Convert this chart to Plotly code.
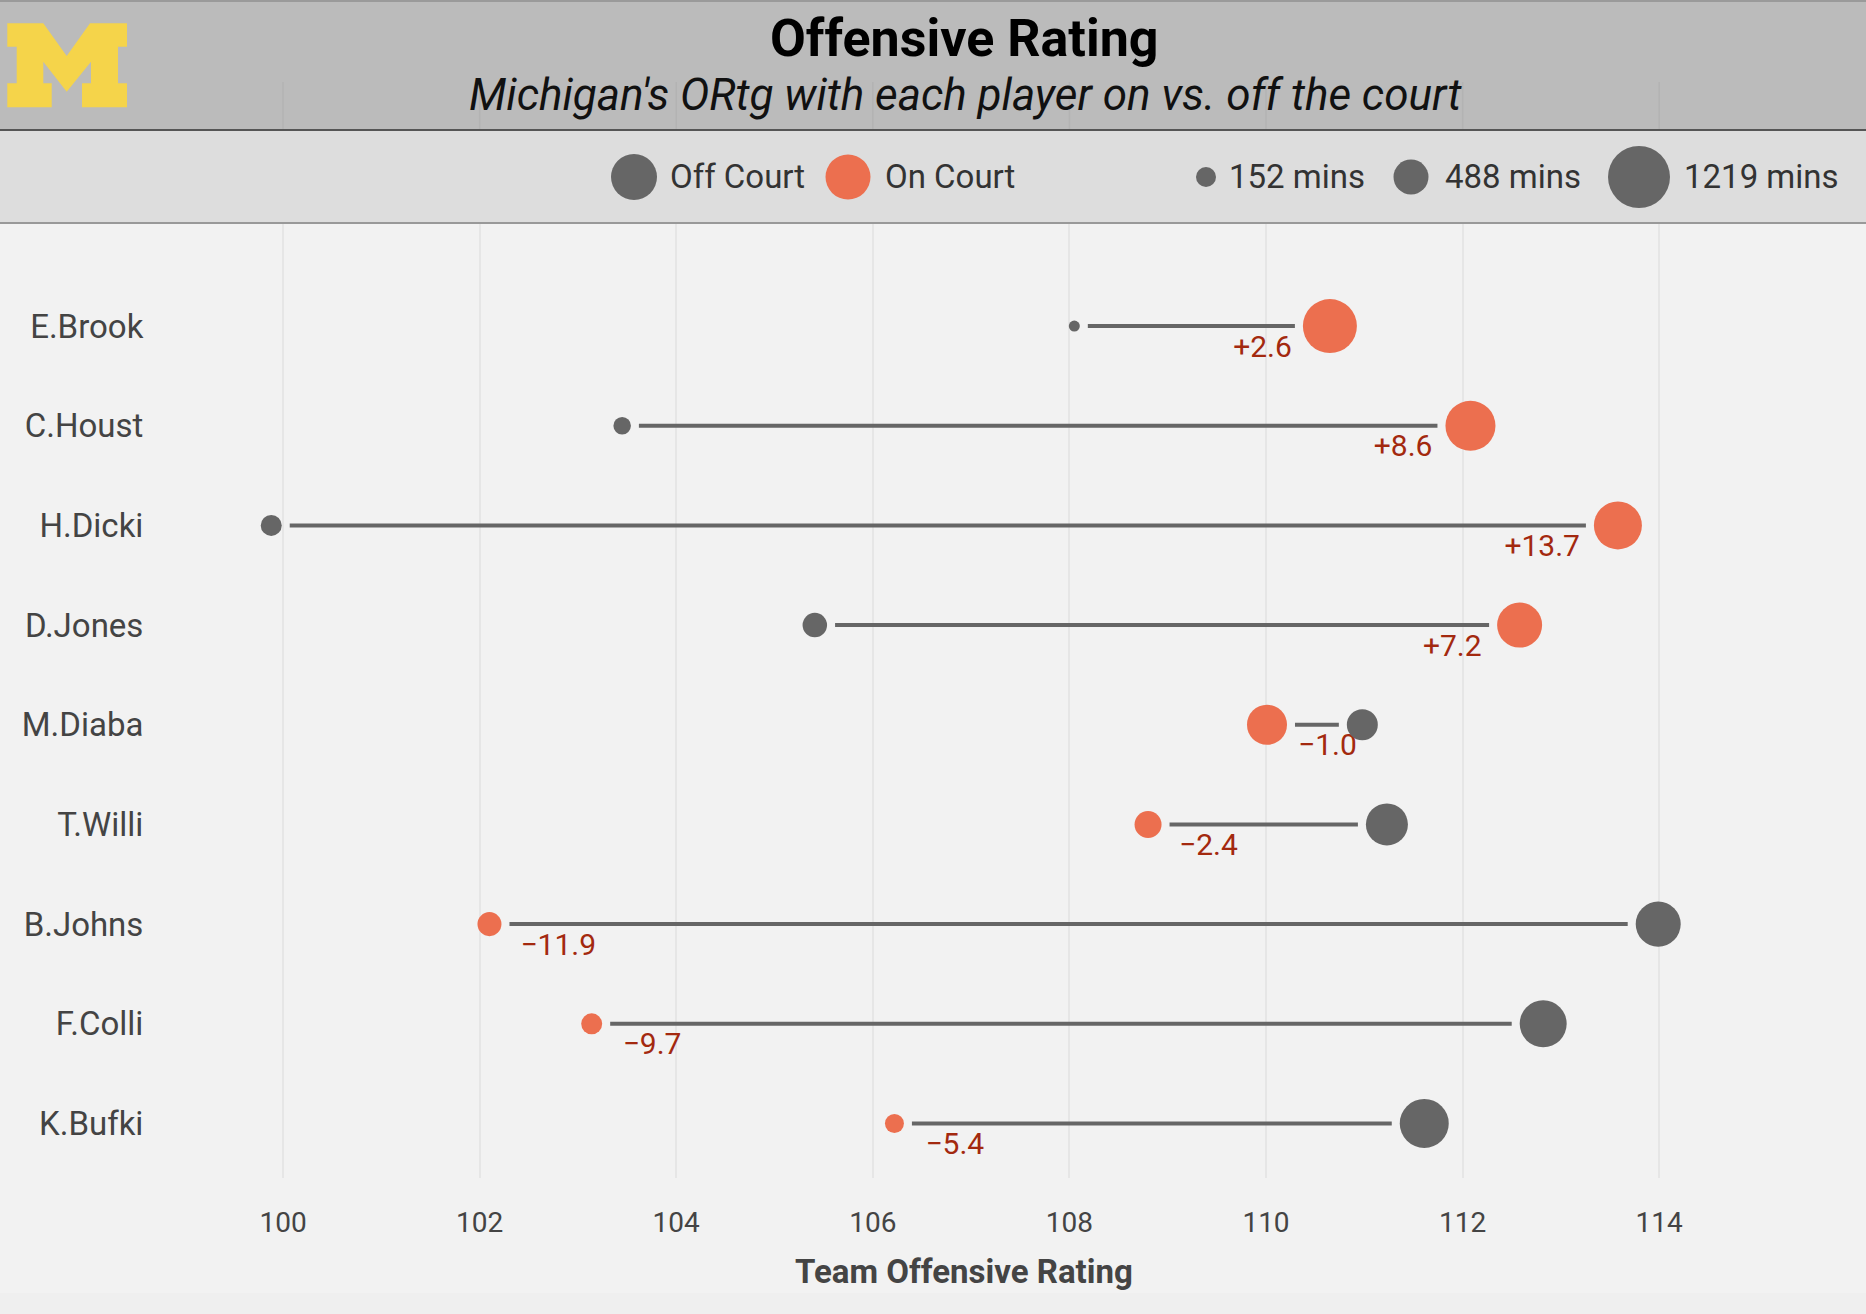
import plotly.graph_objects as go
import numpy as np

# ---------------- data ----------------
players = ["E.Brook", "C.Houst", "H.Dicki", "D.Jones", "M.Diaba",
           "T.Willi", "B.Johns", "F.Colli", "K.Bufki"]
ortg_off = [108.05, 103.45, 99.88, 105.41, 110.98, 111.23, 113.99, 112.82, 111.61]
ortg_on = [110.65, 112.08, 113.58, 112.58, 110.01, 108.80, 102.10, 103.14, 106.22]
mins_off = [152, 313, 400, 487, 648, 921, 996, 1045, 1095]
mins_on = [1219, 1120, 1070, 996, 872, 549, 475, 400, 350]
x_ticks = [100, 102, 104, 106, 108, 110, 112, 114]
legend_minutes = [152, 488, 1219]

# ---------------- style / layout constants ----------------
W, H = 1866, 1314
L, T, PW, PH = 204, 224, 1524, 954
X_RANGE = [99.196, 114.70]
Y_RANGE = [8.547, -1.024]
PPU_X = PW / (X_RANGE[1] - X_RANGE[0])
PPU_Y = PH / (Y_RANGE[0] - Y_RANGE[1])
GRAY = "#666666"
ORANGE = "#ec6f4f"
RED = "#a3290f"
FONT = "Roboto"
D_MIN, D_MAX = 11, 54
GAP = 8

all_mins = mins_off + mins_on
m_lo, m_hi = min(all_mins), max(all_mins)


def size_scale(m):
    m = np.asarray(m, dtype=float)
    return D_MIN + (m - m_lo) / (m_hi - m_lo) * (D_MAX - D_MIN)


def px2x(px):
    return (px - L) / PW


def py2y(py):
    return (T + PH - py) / PH


d_off = size_scale(mins_off)
d_on = size_scale(mins_on)
yidx = list(range(len(players)))

# segments and difference labels
seg_x, seg_y = [], []
lab_x, lab_y, lab_t, lab_pos = [], [], [], []
for i in yidx:
    off, on = ortg_off[i], ortg_on[i]
    s = 1 if on > off else -1
    x0 = off + s * (d_off[i] / 2 + GAP) / PPU_X
    x1 = on - s * (d_on[i] / 2 + GAP) / PPU_X
    seg_x += [x0, x1, None]
    seg_y += [i, i, None]
    diff = round(on - off, 1)
    txt = ("+" if diff > 0 else "\u2212") + f"{abs(diff):.1f}"
    if s > 0:
        lab_x.append(on - 38 / PPU_X)
        lab_pos.append("middle left")
    else:
        lab_x.append(on + 31 / PPU_X)
        lab_pos.append("middle right")
    lab_y.append(i + 23 / PPU_Y)
    lab_t.append(txt)

fig = go.Figure()
fig.add_trace(go.Scatter(x=seg_x, y=seg_y, mode="lines",
                         line=dict(color=GRAY, width=4), hoverinfo="skip",
                         showlegend=False))
fig.add_trace(go.Scatter(x=lab_x, y=lab_y, mode="text", text=lab_t,
                         textposition=lab_pos, marker=dict(size=0),
                         textfont=dict(family=FONT, size=30, color=RED),
                         hoverinfo="skip", showlegend=False))
fig.add_trace(go.Scatter(x=ortg_on, y=yidx, mode="markers", name="On Court",
                         marker=dict(color=ORANGE, size=d_on, line=dict(width=0), opacity=1),
                         showlegend=False))
fig.add_trace(go.Scatter(x=ortg_off, y=yidx, mode="markers", name="Off Court",
                         marker=dict(color=GRAY, size=d_off, line=dict(width=0), opacity=1),
                         showlegend=False))

shapes = []
# bottom strip
shapes.append(dict(type="rect", xref="paper", yref="paper",
                   x0=px2x(0), x1=px2x(W), y0=py2y(H), y1=py2y(1293),
                   fillcolor="#efefef", line=dict(width=0), layer="below"))
# title bar
shapes.append(dict(type="rect", xref="paper", yref="paper",
                   x0=px2x(0), x1=px2x(W), y0=py2y(130), y1=py2y(0),
                   fillcolor="#bbbbbb", line=dict(width=0), layer="above"))
shapes.append(dict(type="line", xref="paper", yref="paper",
                   x0=px2x(0), x1=px2x(W), y0=py2y(1), y1=py2y(1),
                   line=dict(color="#9a9a9a", width=2), layer="above"))
shapes.append(dict(type="line", xref="paper", yref="paper",
                   x0=px2x(0), x1=px2x(W), y0=py2y(130), y1=py2y(130),
                   line=dict(color="#555555", width=2), layer="above"))
# faint grid continuation inside the title bar
for v in x_ticks:
    shapes.append(dict(type="line", xref="x", yref="paper", x0=v, x1=v,
                       y0=py2y(129), y1=py2y(82),
                       line=dict(color="#b3b3b3", width=1.5), layer="above"))
# legend bar
shapes.append(dict(type="rect", xref="paper", yref="paper",
                   x0=px2x(0), x1=px2x(W), y0=py2y(223), y1=py2y(131),
                   fillcolor="#dddddd", line=dict(width=0), layer="above"))
shapes.append(dict(type="line", xref="paper", yref="paper",
                   x0=px2x(0), x1=px2x(W), y0=py2y(223), y1=py2y(223),
                   line=dict(color="#999999", width=2), layer="above"))


def circle(cx, cy, d, color):
    return dict(type="circle", xref="paper", yref="paper",
                x0=px2x(cx - d / 2), x1=px2x(cx + d / 2),
                y0=py2y(cy + d / 2), y1=py2y(cy - d / 2),
                fillcolor=color, line=dict(width=0), layer="above")


LEG_Y = 177
shapes.append(circle(634, LEG_Y, 46, GRAY))
shapes.append(circle(848, LEG_Y, 45, ORANGE))
leg_sizes = [20, 35, 62]
leg_cx = [1206, 1411, 1639]
leg_tx = [1227, 1443, 1682]
for cx, dd in zip(leg_cx, leg_sizes):
    shapes.append(circle(cx, LEG_Y, dd, GRAY))

# Michigan block M logo
m_pts = [(7.3, 23.3), (43.3, 23.3), (66.7, 56), (90, 23.3), (127, 23.3), (127, 46.7),
         (118, 46.7), (118, 83.3), (127, 83.3), (127, 107.3), (82, 107.3), (82, 83.3),
         (91, 83.3), (91, 61.7), (66.7, 91.7), (43.3, 61.7), (43.3, 83.3), (51.7, 83.3),
         (51.7, 107.3), (7.3, 107.3), (7.3, 83.3), (16.7, 83.3), (16.7, 46.7), (7.3, 46.7)]
path = "M " + " L ".join(f"{px2x(a):.5f},{py2y(b):.5f}" for a, b in m_pts) + " Z"
shapes.append(dict(type="path", xref="paper", yref="paper", path=path,
                   fillcolor="#f5d44a", line=dict(width=0), layer="above"))

annotations = []
annotations.append(dict(xref="paper", yref="paper", x=px2x(964), y=py2y(38),
                        text="<b>Offensive Rating</b>", showarrow=False,
                        xanchor="center", yanchor="middle",
                        font=dict(family=FONT, size=52, color="#000000")))
annotations.append(dict(xref="paper", yref="paper", x=px2x(966), y=py2y(95),
                        text="<i>Michigan's ORtg with each player on vs. off the court</i>",
                        showarrow=False, xanchor="center", yanchor="middle",
                        font=dict(family=FONT, size=44, color="#111111")))
annotations.append(dict(xref="paper", yref="paper", x=px2x(668), y=py2y(LEG_Y),
                        text="Off Court", showarrow=False, xanchor="left", yanchor="middle",
                        font=dict(family=FONT, size=33, color="#333333")))
annotations.append(dict(xref="paper", yref="paper", x=px2x(883), y=py2y(LEG_Y),
                        text="On Court", showarrow=False, xanchor="left", yanchor="middle",
                        font=dict(family=FONT, size=33, color="#333333")))
for tx, m in zip(leg_tx, legend_minutes):
    annotations.append(dict(xref="paper", yref="paper", x=px2x(tx), y=py2y(LEG_Y),
                            text=f"{m} mins", showarrow=False, xanchor="left",
                            yanchor="middle",
                            font=dict(family=FONT, size=33, color="#333333")))
annotations.append(dict(xref="paper", yref="paper", x=px2x(964), y=py2y(1271),
                        text="<b>Team Offensive Rating</b>", showarrow=False,
                        xanchor="center", yanchor="middle",
                        font=dict(family=FONT, size=33, color="#444444")))

fig.update_layout(
    width=W, height=H,
    margin=dict(l=L, r=W - L - PW, t=T, b=H - T - PH, pad=0),
    paper_bgcolor="#f2f2f2", plot_bgcolor="#f2f2f2",
    showlegend=False,
    shapes=shapes, annotations=annotations,
    xaxis=dict(range=X_RANGE, tickvals=x_ticks, ticktext=[str(v) for v in x_ticks],
               showgrid=True, gridcolor="#e6e6e6", gridwidth=1.5, zeroline=False,
               showline=False, ticks="outside", ticklen=19, tickcolor="rgba(0,0,0,0)",
               tickfont=dict(family=FONT, size=28, color="#444444")),
    yaxis=dict(range=Y_RANGE, tickvals=yidx, ticktext=players, showgrid=False,
               zeroline=False, showline=False, ticks="outside", ticklen=53,
               tickcolor="rgba(0,0,0,0)",
               tickfont=dict(family=FONT, size=33, color="#444444")),
)

fig.write_html("out.html", config={"displayModeBar": False},
               post_script="document.body.style.margin='0';document.body.style.overflow='hidden';")
